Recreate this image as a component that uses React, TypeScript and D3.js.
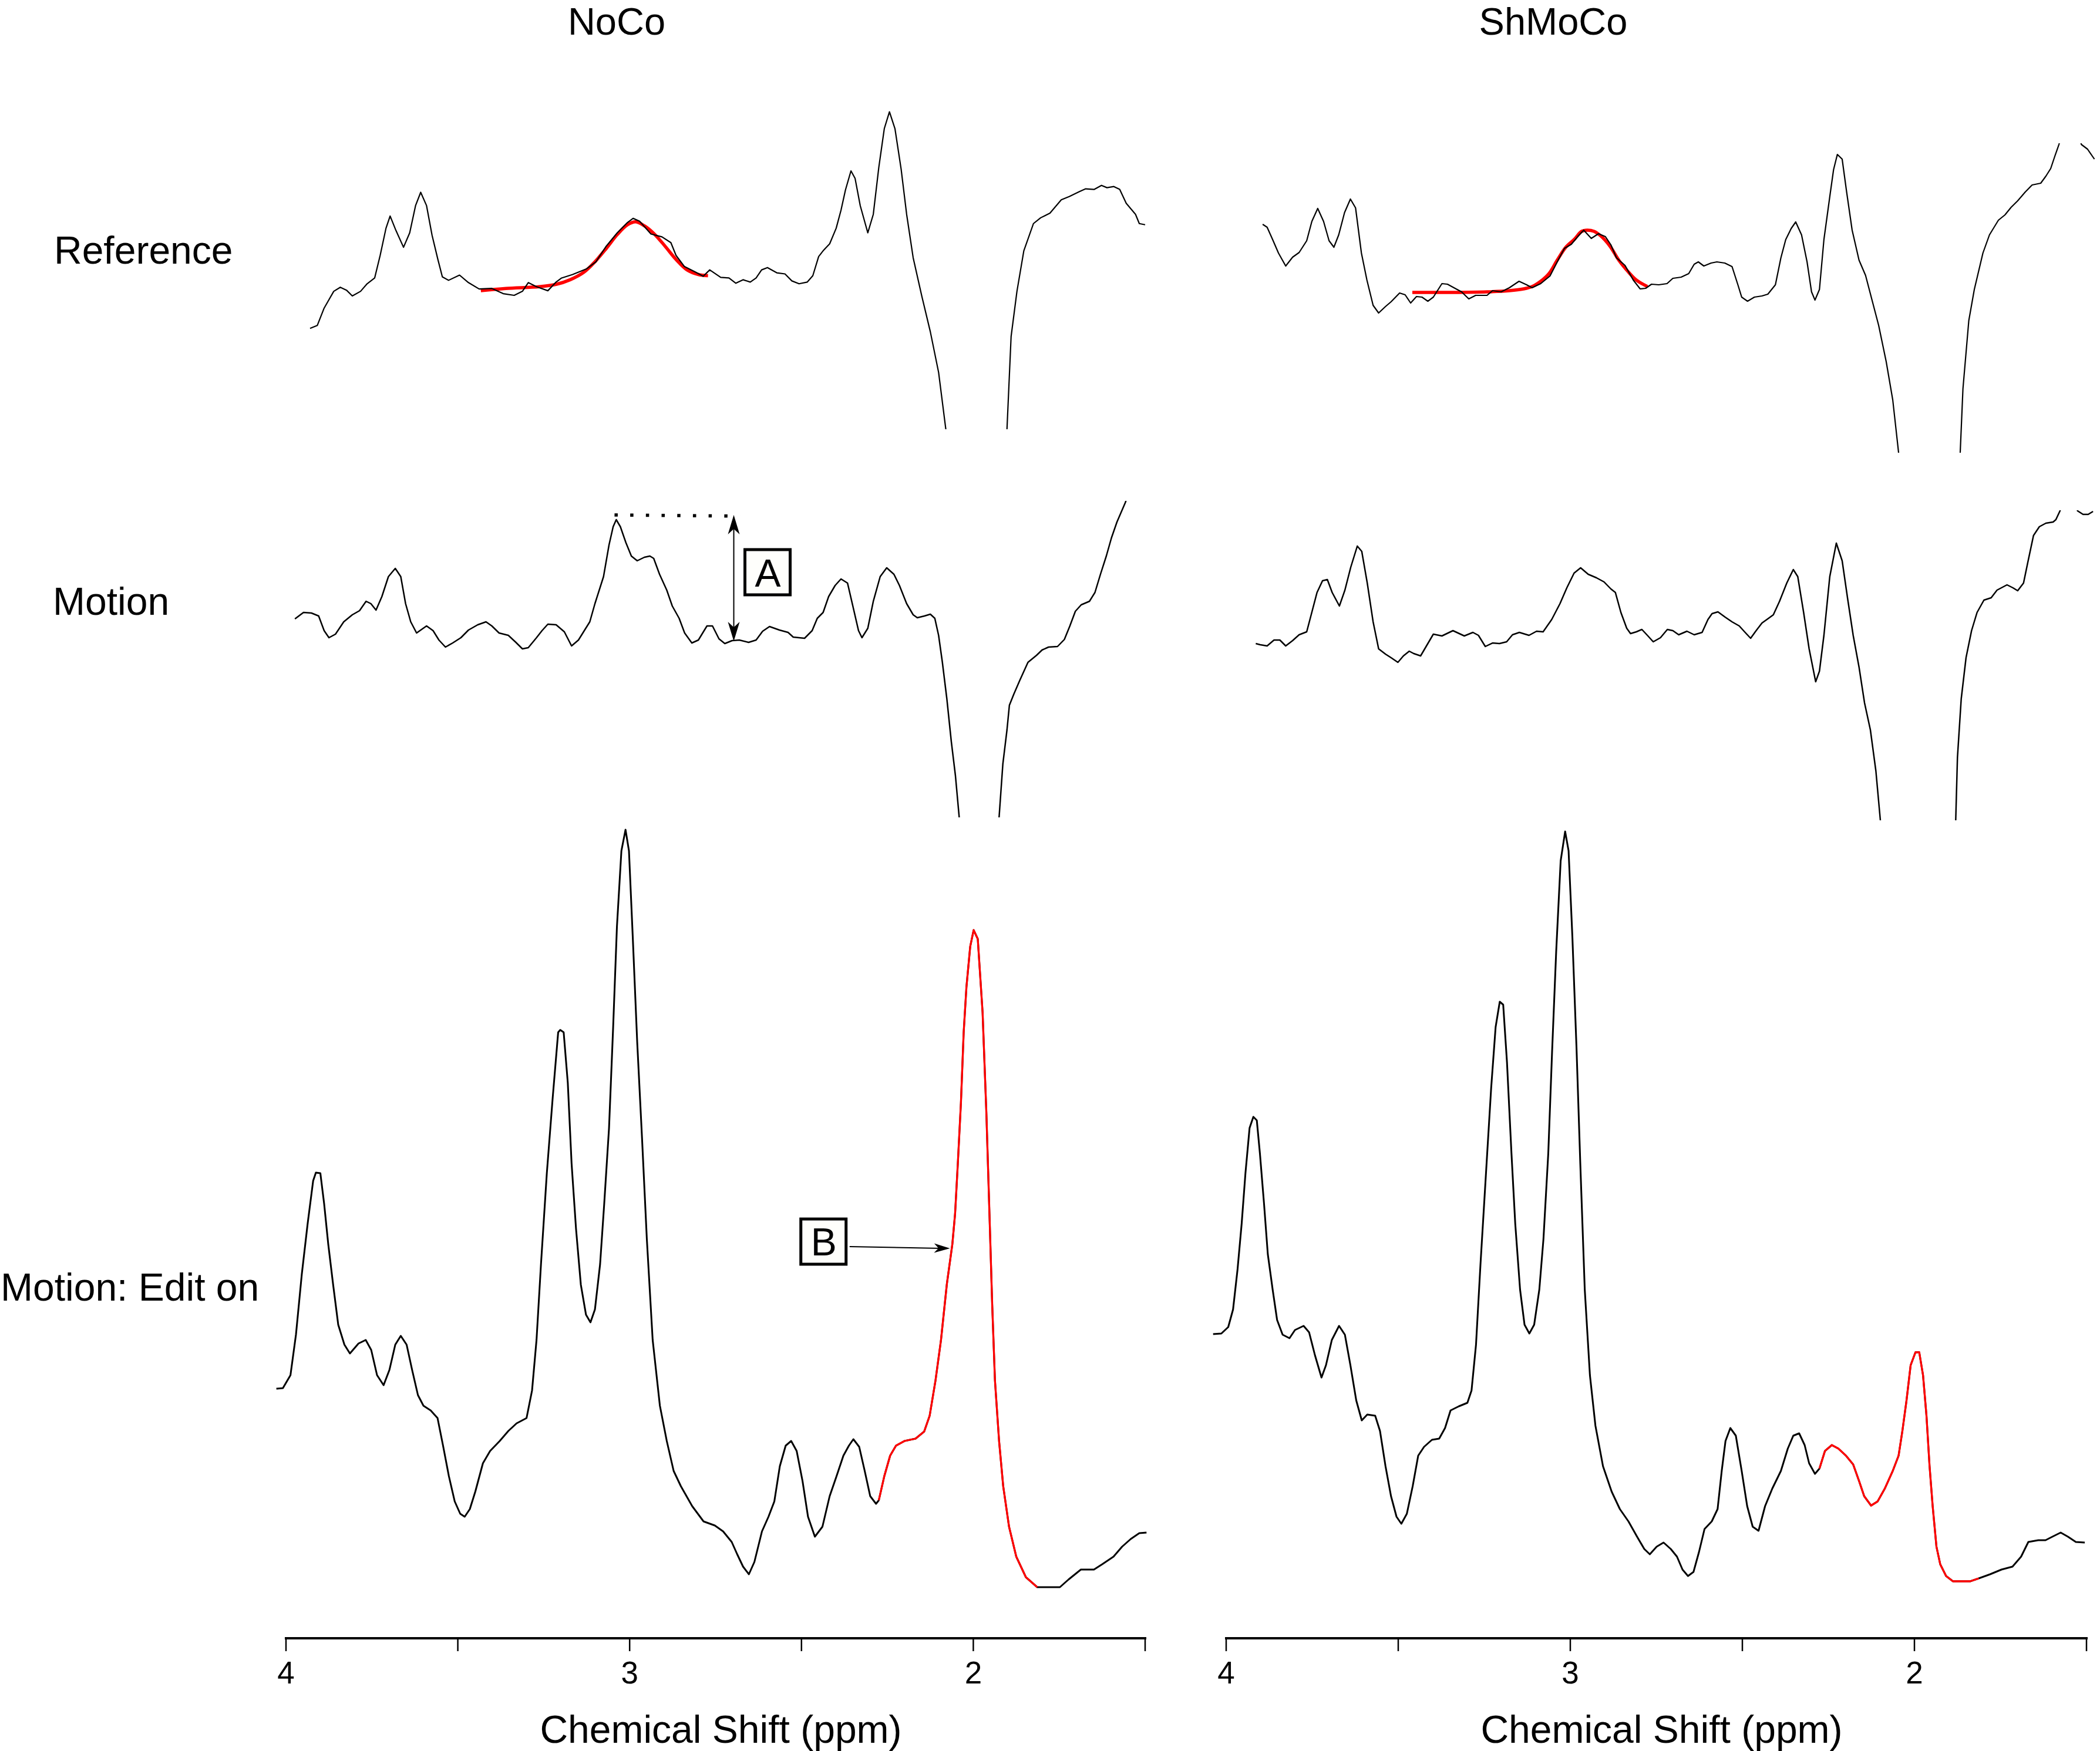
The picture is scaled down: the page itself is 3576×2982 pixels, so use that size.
import React from 'react';
import * as d3 from 'd3';

// axis + labels
const PPM_TICKS = [4, 3.5, 3, 2.5, 2, 1.5];
const PPM_LABELS = ['4', '', '3', '', '2', ''];
const COLUMN_TITLES = ['NoCo', 'ShMoCo'];
const ROW_LABELS = ['Reference', 'Motion', 'Motion: Edit on'];
const X_TITLE = 'Chemical Shift (ppm)';

// edited (red) part of the Edit-on spectra, ppm
const EDIT_RANGE = [2.28, 1.81];

// ---- Reference, NoCo ----
const NOCO_REF_PPM = [3.930, 3.909, 3.889, 3.861, 3.842, 3.824, 3.807, 3.783, 3.764, 3.742, 3.726, 3.709, 3.697, 3.680, 3.658, 3.640, 3.623, 3.608, 3.591, 3.575, 3.558, 3.545, 3.527, 3.495, 3.469, 3.438, 3.401, 3.368, 3.336, 3.312, 3.295, 3.271, 3.238, 3.214, 3.198, 3.166, 3.125, 3.098, 3.068, 3.036, 3.006, 2.990, 2.971, 2.938, 2.906, 2.880, 2.865, 2.841, 2.808, 2.786, 2.767, 2.735, 2.711, 2.691, 2.670, 2.649, 2.632, 2.616, 2.599, 2.572, 2.548, 2.528, 2.507, 2.483, 2.467, 2.450, 2.437, 2.418, 2.399, 2.385, 2.372, 2.356, 2.344, 2.329, 2.307, 2.291, 2.275, 2.259, 2.244, 2.228, 2.210, 2.194, 2.175, 2.150, 2.125, 2.101, 2.080, 2.030, 1.960, 1.930, 1.902, 1.890, 1.873, 1.853, 1.825, 1.804, 1.777, 1.744, 1.720, 1.692, 1.673, 1.648, 1.627, 1.611, 1.591, 1.574, 1.555, 1.528, 1.517, 1.500];
const NOCO_REF_AU = [16.5, 17.0, 20.0, 22.9, 23.6, 23.1, 22.1, 22.9, 24.2, 25.2, 29.1, 33.8, 35.9, 33.4, 30.5, 33.0, 37.7, 40.0, 37.7, 32.6, 28.4, 25.4, 24.8, 25.7, 24.4, 23.3, 23.4, 22.5, 22.2, 22.9, 24.4, 23.7, 23.0, 24.5, 25.2, 25.8, 26.8, 28.0, 30.7, 33.0, 34.8, 35.5, 35.0, 32.8, 32.3, 31.3, 29.1, 27.2, 26.2, 25.5, 26.6, 25.3, 25.2, 24.3, 24.9, 24.5, 25.2, 26.6, 27.0, 26.1, 25.9, 24.7, 24.2, 24.5, 25.6, 28.9, 29.9, 31.1, 33.8, 36.9, 40.4, 43.7, 42.4, 37.7, 33.0, 36.2, 44.3, 51.0, 53.9, 51.0, 44.0, 36.2, 28.7, 22.1, 15.9, 8.9, -0.9, -40, -60, -40, -0.9, 15.1, 22.9, 29.9, 34.6, 35.6, 36.4, 38.7, 39.3, 40.1, 40.6, 40.5, 41.2, 40.8, 41.0, 40.5, 38.1, 36.2, 34.6, 34.4];
const NOCO_FIT_PPM = [3.433, 3.360, 3.263, 3.214, 3.173, 3.133, 3.101, 3.068, 3.036, 3.006, 2.982, 2.957, 2.930, 2.897, 2.865, 2.833, 2.800, 2.772];
const NOCO_FIT_AU = [23.0, 23.4, 23.7, 24.1, 24.9, 26.2, 28.0, 30.3, 32.7, 34.4, 34.9, 34.2, 32.9, 30.7, 28.4, 26.6, 25.8, 25.6];

// ---- Reference, ShMoCo ----
const SHMOCO_REF_PPM = [3.894, 3.881, 3.865, 3.848, 3.827, 3.807, 3.788, 3.766, 3.751, 3.734, 3.717, 3.701, 3.687, 3.673, 3.656, 3.639, 3.624, 3.607, 3.591, 3.573, 3.557, 3.537, 3.521, 3.496, 3.480, 3.464, 3.447, 3.431, 3.414, 3.398, 3.373, 3.357, 3.332, 3.316, 3.295, 3.275, 3.242, 3.226, 3.201, 3.177, 3.149, 3.127, 3.111, 3.086, 3.059, 3.038, 3.017, 2.997, 2.977, 2.961, 2.939, 2.918, 2.898, 2.882, 2.866, 2.841, 2.817, 2.797, 2.781, 2.764, 2.743, 2.719, 2.702, 2.678, 2.656, 2.640, 2.628, 2.612, 2.591, 2.574, 2.551, 2.530, 2.513, 2.502, 2.485, 2.465, 2.443, 2.426, 2.404, 2.388, 2.374, 2.358, 2.345, 2.328, 2.312, 2.299, 2.289, 2.276, 2.263, 2.246, 2.235, 2.224, 2.210, 2.197, 2.181, 2.161, 2.142, 2.121, 2.104, 2.082, 2.063, 2.046, 2.000, 1.950, 1.900, 1.867, 1.859, 1.842, 1.826, 1.801, 1.782, 1.756, 1.737, 1.719, 1.700, 1.678, 1.658, 1.633, 1.618, 1.604, 1.592, 1.580, 1.565, 1.530, 1.515, 1.497, 1.477];
const SHMOCO_REF_AU = [38.9, 38.4, 36.3, 34.0, 31.8, 33.3, 34.1, 36.1, 39.4, 41.6, 39.4, 36.1, 35.0, 37.1, 40.9, 43.2, 41.7, 34.0, 29.4, 25.1, 23.8, 24.9, 25.7, 27.2, 26.9, 25.5, 26.6, 26.5, 25.8, 26.5, 28.8, 28.7, 27.9, 27.4, 26.2, 26.8, 26.8, 27.6, 27.4, 28.1, 29.2, 28.6, 28.1, 28.8, 30.1, 32.5, 34.8, 35.5, 36.9, 37.9, 36.5, 37.3, 36.8, 35.4, 33.2, 31.9, 29.4, 27.9, 28.0, 28.7, 28.6, 28.8, 29.7, 29.9, 30.5, 32.1, 32.5, 31.8, 32.3, 32.5, 32.3, 31.7, 28.6, 26.5, 25.8, 26.5, 26.7, 27.0, 28.6, 33.2, 36.3, 38.2, 39.3, 37.1, 32.5, 27.4, 26.0, 27.8, 36.3, 43.6, 48.2, 50.8, 50.0, 44.4, 37.9, 32.8, 30.2, 25.5, 21.7, 15.5, 9.0, 0, -40, -60, -40, 0, 10.9, 22.5, 27.8, 34.0, 37.1, 39.6, 40.5, 41.8, 42.9, 44.4, 45.6, 45.9, 47.1, 48.4, 50.5, 52.5, 56, 56, 52.5, 51.7, 50.0];
const SHMOCO_FIT_PPM = [3.459, 3.341, 3.242, 3.177, 3.136, 3.111, 3.086, 3.062, 3.038, 3.013, 2.989, 2.967, 2.951, 2.931, 2.911, 2.885, 2.858, 2.833, 2.808, 2.776];
const SHMOCO_FIT_AU = [27.3, 27.3, 27.4, 27.6, 27.9, 28.3, 29.2, 30.5, 32.8, 35.0, 36.3, 37.7, 37.9, 37.7, 36.9, 35.2, 32.7, 30.9, 29.4, 28.3];

// ---- Motion, NoCo ----
const NOCO_MOT_PPM = [3.974, 3.949, 3.926, 3.905, 3.889, 3.875, 3.856, 3.832, 3.807, 3.786, 3.767, 3.753, 3.738, 3.721, 3.702, 3.682, 3.666, 3.652, 3.637, 3.620, 3.591, 3.572, 3.555, 3.536, 3.515, 3.491, 3.469, 3.442, 3.418, 3.401, 3.380, 3.353, 3.331, 3.312, 3.295, 3.271, 3.255, 3.238, 3.214, 3.190, 3.169, 3.149, 3.116, 3.101, 3.076, 3.060, 3.048, 3.039, 3.027, 3.011, 2.995, 2.978, 2.957, 2.941, 2.930, 2.913, 2.892, 2.876, 2.856, 2.840, 2.819, 2.800, 2.775, 2.759, 2.740, 2.723, 2.702, 2.681, 2.654, 2.632, 2.613, 2.593, 2.564, 2.539, 2.524, 2.491, 2.469, 2.454, 2.437, 2.421, 2.402, 2.385, 2.366, 2.349, 2.334, 2.324, 2.307, 2.291, 2.271, 2.252, 2.231, 2.215, 2.194, 2.175, 2.163, 2.142, 2.125, 2.112, 2.101, 2.090, 2.077, 2.064, 2.052, 2.041, 2.000, 1.970, 1.940, 1.925, 1.914, 1.902, 1.895, 1.882, 1.865, 1.841, 1.816, 1.800, 1.781, 1.755, 1.735, 1.719, 1.703, 1.686, 1.662, 1.646, 1.630, 1.613, 1.598, 1.582, 1.557, 1.540];
const NOCO_MOT_AU = [33.8, 34.9, 34.8, 34.3, 31.8, 30.6, 31.2, 33.3, 34.5, 35.2, 36.8, 36.4, 35.3, 37.6, 41.0, 42.4, 41.0, 36.4, 33.3, 31.4, 32.6, 31.8, 30.2, 29.0, 29.7, 30.6, 31.9, 32.8, 33.3, 32.6, 31.4, 31.0, 29.8, 28.7, 28.9, 30.6, 31.8, 32.9, 32.8, 31.6, 29.2, 30.2, 33.3, 36.4, 41.0, 46.4, 49.5, 50.7, 49.5, 46.8, 44.5, 43.7, 44.3, 44.5, 44.1, 41.4, 38.7, 36.0, 33.9, 31.4, 29.7, 30.2, 32.6, 32.6, 30.4, 29.6, 30.1, 30.2, 29.8, 30.2, 31.7, 32.5, 31.9, 31.5, 30.7, 30.5, 31.8, 33.9, 34.9, 37.6, 39.5, 40.6, 39.9, 35.6, 31.8, 30.6, 32.2, 36.8, 41.0, 42.5, 41.4, 39.5, 36.4, 34.5, 34.0, 34.3, 34.6, 33.9, 31.0, 26.4, 20.2, 12.9, 7.1, 0, -40, -50, -40, 0, 9.1, 14.9, 19.1, 21.0, 23.3, 26.4, 27.6, 28.5, 29.0, 29.1, 30.3, 32.6, 35.1, 36.2, 36.8, 38.3, 41.4, 44.5, 47.6, 50.3, 53.7, 57];

// ---- Motion, ShMoCo ----
const SHMOCO_MOT_PPM = [3.914, 3.901, 3.881, 3.861, 3.844, 3.827, 3.807, 3.788, 3.766, 3.753, 3.736, 3.720, 3.706, 3.692, 3.671, 3.655, 3.638, 3.619, 3.606, 3.590, 3.573, 3.557, 3.537, 3.521, 3.501, 3.485, 3.468, 3.455, 3.435, 3.419, 3.398, 3.373, 3.341, 3.308, 3.283, 3.267, 3.247, 3.226, 3.206, 3.185, 3.168, 3.148, 3.120, 3.098, 3.079, 3.054, 3.030, 3.010, 2.989, 2.970, 2.948, 2.924, 2.902, 2.882, 2.869, 2.853, 2.836, 2.825, 2.808, 2.792, 2.776, 2.759, 2.738, 2.718, 2.702, 2.685, 2.661, 2.640, 2.617, 2.600, 2.588, 2.571, 2.550, 2.530, 2.509, 2.492, 2.476, 2.460, 2.443, 2.424, 2.410, 2.392, 2.371, 2.352, 2.339, 2.322, 2.306, 2.287, 2.276, 2.263, 2.246, 2.227, 2.210, 2.194, 2.178, 2.161, 2.145, 2.128, 2.112, 2.099, 2.050, 1.990, 1.920, 1.880, 1.875, 1.864, 1.850, 1.834, 1.818, 1.798, 1.777, 1.760, 1.731, 1.714, 1.700, 1.683, 1.671, 1.654, 1.637, 1.618, 1.597, 1.589, 1.577, 1.560, 1.535, 1.526, 1.510, 1.495, 1.481];
const SHMOCO_MOT_AU = [30.1, 29.9, 29.7, 30.7, 30.7, 29.7, 30.6, 31.6, 32.1, 35.0, 38.8, 40.8, 41.0, 38.8, 36.5, 39.2, 43.1, 46.7, 45.8, 40.4, 33.8, 29.2, 28.3, 27.7, 26.9, 28.0, 28.8, 28.4, 28.0, 29.6, 31.7, 31.4, 32.3, 31.4, 32.0, 31.5, 29.6, 30.2, 30.1, 30.4, 31.6, 32.0, 31.5, 32.2, 32.1, 34.2, 36.9, 39.6, 42.1, 43.0, 41.9, 41.3, 40.6, 39.4, 38.8, 35.4, 32.7, 31.8, 32.1, 32.5, 31.5, 30.4, 31.1, 32.5, 32.3, 31.6, 32.2, 31.6, 32.0, 34.2, 35.2, 35.5, 34.6, 33.8, 33.1, 32.0, 31.0, 32.3, 33.6, 34.4, 35.0, 37.3, 40.4, 42.7, 41.5, 35.4, 29.2, 23.6, 25.4, 31.5, 41.5, 47.2, 44.2, 37.7, 31.5, 26.1, 20.0, 15.4, 8.4, 0, -40, -60, -40, 0, 10.7, 20.7, 27.7, 32.3, 35.4, 37.5, 37.9, 39.2, 40.1, 39.6, 39.1, 40.4, 43.8, 48.5, 50.0, 50.6, 50.8, 51.2, 52.7, 56, 56, 52.7, 52.1, 52.1, 52.6];

// ---- Motion: Edit on, NoCo ----
const NOCO_EDIT_PPM = [4.028, 4.009, 3.987, 3.971, 3.954, 3.937, 3.921, 3.913, 3.900, 3.889, 3.877, 3.863, 3.848, 3.830, 3.814, 3.789, 3.768, 3.752, 3.735, 3.716, 3.699, 3.682, 3.666, 3.649, 3.633, 3.616, 3.600, 3.579, 3.559, 3.543, 3.526, 3.509, 3.493, 3.480, 3.465, 3.449, 3.427, 3.406, 3.378, 3.353, 3.329, 3.300, 3.284, 3.271, 3.258, 3.241, 3.224, 3.208, 3.202, 3.192, 3.180, 3.169, 3.156, 3.142, 3.127, 3.114, 3.101, 3.086, 3.074, 3.060, 3.048, 3.037, 3.024, 3.012, 3.002, 2.991, 2.978, 2.964, 2.950, 2.933, 2.912, 2.892, 2.872, 2.851, 2.818, 2.785, 2.752, 2.728, 2.703, 2.687, 2.670, 2.653, 2.637, 2.615, 2.596, 2.579, 2.563, 2.546, 2.530, 2.514, 2.497, 2.481, 2.461, 2.439, 2.418, 2.398, 2.378, 2.362, 2.349, 2.332, 2.316, 2.300, 2.283, 2.275, 2.259, 2.242, 2.225, 2.200, 2.168, 2.143, 2.127, 2.110, 2.094, 2.077, 2.061, 2.053, 2.045, 2.036, 2.028, 2.020, 2.009, 1.999, 1.987, 1.973, 1.962, 1.953, 1.945, 1.937, 1.925, 1.913, 1.896, 1.875, 1.847, 1.814, 1.748, 1.723, 1.687, 1.649, 1.625, 1.592, 1.567, 1.542, 1.517, 1.496];
const NOCO_EDIT_AU = [35.5, 35.6, 37.8, 44.7, 55.0, 63.6, 70.9, 72.3, 72.2, 67.0, 60.1, 53.3, 46.4, 43.0, 41.5, 43.2, 43.8, 42.1, 37.8, 36.1, 38.7, 43.0, 44.5, 43.0, 38.7, 34.4, 32.6, 31.8, 30.5, 25.8, 20.6, 16.3, 14.2, 13.7, 15.0, 18.0, 22.8, 24.9, 26.6, 28.3, 29.6, 30.5, 35.2, 43.8, 56.7, 72.2, 85.0, 96.2, 96.6, 96.2, 87.6, 73.9, 62.7, 53.2, 48.1, 46.8, 49.0, 56.7, 67.0, 79.9, 97.1, 114.2, 127.1, 130.7, 127.1, 112.5, 94.5, 78.2, 61.0, 43.8, 32.6, 26.6, 21.5, 18.9, 15.5, 12.9, 12.2, 11.2, 9.4, 7.3, 5.2, 3.9, 6.0, 11.2, 13.7, 16.3, 22.3, 25.8, 26.6, 24.9, 19.8, 13.7, 10.3, 12.0, 17.2, 20.6, 24.1, 25.8, 26.9, 25.6, 21.5, 17.2, 15.9, 16.5, 20.6, 24.1, 25.8, 26.6, 27.0, 28.2, 30.9, 36.9, 43.8, 53.3, 60.1, 65.3, 73.9, 84.2, 96.2, 103.9, 110.8, 113.6, 112.1, 99.6, 82.5, 65.3, 49.8, 36.9, 26.6, 18.9, 12.0, 6.9, 3.4, 1.7, 1.7, 3.0, 4.7, 4.7, 5.6, 6.9, 8.6, 9.9, 10.9, 11.0];

// ---- Motion: Edit on, ShMoCo ----
const SHMOCO_EDIT_PPM = [4.038, 4.014, 3.994, 3.980, 3.967, 3.955, 3.944, 3.932, 3.921, 3.911, 3.902, 3.890, 3.879, 3.865, 3.852, 3.836, 3.816, 3.800, 3.775, 3.759, 3.742, 3.723, 3.710, 3.693, 3.672, 3.655, 3.639, 3.622, 3.606, 3.590, 3.567, 3.553, 3.537, 3.521, 3.505, 3.491, 3.475, 3.458, 3.442, 3.425, 3.402, 3.381, 3.364, 3.348, 3.324, 3.299, 3.287, 3.274, 3.261, 3.245, 3.230, 3.217, 3.205, 3.195, 3.184, 3.171, 3.160, 3.146, 3.133, 3.119, 3.105, 3.090, 3.078, 3.064, 3.053, 3.041, 3.028, 3.015, 3.005, 2.994, 2.982, 2.971, 2.958, 2.943, 2.927, 2.905, 2.880, 2.856, 2.831, 2.806, 2.785, 2.769, 2.749, 2.729, 2.708, 2.690, 2.674, 2.658, 2.642, 2.626, 2.610, 2.589, 2.572, 2.560, 2.549, 2.535, 2.519, 2.502, 2.486, 2.470, 2.453, 2.434, 2.413, 2.388, 2.368, 2.352, 2.335, 2.319, 2.306, 2.289, 2.276, 2.260, 2.240, 2.221, 2.199, 2.178, 2.161, 2.146, 2.126, 2.107, 2.086, 2.063, 2.046, 2.035, 2.023, 2.011, 1.997, 1.986, 1.975, 1.965, 1.956, 1.947, 1.936, 1.925, 1.908, 1.888, 1.838, 1.813, 1.780, 1.747, 1.715, 1.690, 1.669, 1.640, 1.619, 1.599, 1.575, 1.554, 1.531, 1.505];
const SHMOCO_EDIT_AU = [44.8, 44.9, 46.0, 49.0, 55.8, 63.6, 72.2, 79.9, 81.8, 81.2, 75.6, 67.0, 58.4, 52.4, 47.2, 44.7, 44.1, 45.5, 46.2, 45.1, 41.2, 37.4, 39.5, 43.8, 46.2, 44.7, 39.5, 33.5, 30.1, 31.1, 30.9, 28.3, 22.3, 17.2, 13.7, 12.5, 14.2, 18.9, 24.1, 25.6, 26.8, 27.0, 28.8, 31.8, 32.5, 33.1, 35.2, 43.0, 56.7, 72.2, 86.7, 97.1, 101.4, 100.9, 91.1, 75.6, 63.6, 52.4, 46.4, 44.9, 46.4, 52.4, 61.0, 75.6, 92.8, 110.0, 125.4, 130.4, 127.1, 112.5, 93.6, 73.9, 52.4, 37.8, 29.2, 22.3, 18.0, 15.0, 12.9, 10.3, 8.2, 7.3, 8.6, 9.3, 8.2, 6.9, 4.7, 3.6, 4.3, 7.7, 11.6, 12.9, 15.0, 21.5, 26.6, 28.8, 27.5, 21.5, 15.5, 12.0, 11.3, 15.5, 18.5, 21.5, 25.3, 27.5, 27.9, 25.9, 22.8, 21.0, 21.9, 24.9, 25.9, 25.3, 24.1, 22.6, 19.8, 17.2, 15.6, 16.3, 18.5, 21.5, 24.1, 28.3, 33.5, 39.5, 41.7, 41.7, 37.8, 30.9, 22.3, 15.5, 8.6, 5.6, 3.6, 2.7, 2.7, 3.2, 3.9, 4.7, 5.2, 6.9, 9.4, 9.7, 9.7, 10.3, 11.0, 10.3, 9.4, 9.3];

// annotation A (Motion NoCo): peak-to-baseline height
const A_PEAK_PPM = 3.044;
const A_ARROW_PPM = 2.697;
const A_END_PPM = 2.679;
const A_TOP = 51.5;
const A_BOTTOM = 30.0;
// annotation B (Edit on NoCo)
const B_FROM_PPM = 2.36;
const B_TO_PPM = 2.068;
const B_LEVEL = 59.4;

const FONT = "'Liberation Sans', Arial, Helvetica, sans-serif";
const W = 3576;
const H = 2982;
const AXIS_Y = 2790;

const zip = (p: number[], a: number[]) => p.map((v, i) => [v, a[i]] as [number, number]);

// stealth arrow head, tip at (x,y), pointing along (dx,dy)
function head(x: number, y: number, dx: number, dy: number, len: number, hw: number) {
  const bx = x - dx * len, by = y - dy * len;
  const nx = -dy, ny = dx;
  const mx = x - dx * len * 0.72, my = y - dy * len * 0.72;
  return `M${x},${y}L${bx + nx * hw},${by + ny * hw}L${mx},${my}L${bx - nx * hw},${by - ny * hw}Z`;
}

export default function App() {
  const xCols = [
    d3.scaleLinear().domain([4, 1.5]).range([487, 1950]),
    d3.scaleLinear().domain([4, 1.5]).range([2088, 3553]),
  ];

  const panels = [
    { id: 'tl', col: 0, yr: [721.9, 623.3], clip: [100, 731], data: zip(NOCO_REF_PPM, NOCO_REF_AU), fit: zip(NOCO_FIT_PPM, NOCO_FIT_AU), sw: 2.2 },
    { id: 'tr', col: 1, yr: [771, 671], clip: [244, 771], data: zip(SHMOCO_REF_PPM, SHMOCO_REF_AU), fit: zip(SHMOCO_FIT_PPM, SHMOCO_FIT_AU), sw: 2.2 },
    { id: 'ml', col: 0, yr: [1392, 1292], clip: [853, 1392], data: zip(NOCO_MOT_PPM, NOCO_MOT_AU), fit: null, sw: 2.5 },
    { id: 'mr', col: 1, yr: [1397, 1297], clip: [869, 1397], data: zip(SHMOCO_MOT_PPM, SHMOCO_MOT_AU), fit: null, sw: 2.5 },
    { id: 'bl', col: 0, yr: [2720, 2620], clip: [1380, 2760], data: zip(NOCO_EDIT_PPM, NOCO_EDIT_AU), fit: null, sw: 3, edit: true },
    { id: 'br', col: 1, yr: [2720, 2620], clip: [1380, 2760], data: zip(SHMOCO_EDIT_PPM, SHMOCO_EDIT_AU), fit: null, sw: 3, edit: true },
  ];

  const yFor = (p: any) => d3.scaleLinear().domain([0, 10]).range(p.yr);

  // scales used by the annotations
  const xL = xCols[0];
  const yMl = yFor(panels[2]);
  const yBl = yFor(panels[4]);
  const ax = xL(A_ARROW_PPM);
  const aTop = yMl(A_TOP);
  const aBot = yMl(A_BOTTOM);
  const bx0 = xL(B_FROM_PPM);
  const bx1 = xL(B_TO_PPM);
  const by = yBl(B_LEVEL);

  return (
    <svg width={W} height={H} style={{ position: 'absolute', left: 0, top: 0, background: '#fff', display: 'block' }} fontFamily={FONT}>
      <defs>
        {panels.map((p) => (
          <clipPath id={`clip-${p.id}`} key={p.id}>
            <rect x={p.col === 0 ? 0 : 1965} y={p.clip[0]} width={p.col === 0 ? 1965 : W - 1965} height={p.clip[1] - p.clip[0]} />
          </clipPath>
        ))}
      </defs>
      <rect width={W} height={H} fill="#fff" />

      {COLUMN_TITLES.map((t, i) => (
        <text key={t} x={i === 0 ? 1050 : 2645} y={59} fontSize={65} textAnchor="middle">{t}</text>
      ))}
      <text x={92} y={449} fontSize={66}>{ROW_LABELS[0]}</text>
      <text x={90} y={1047} fontSize={66}>{ROW_LABELS[1]}</text>
      <text x={1} y={2215} fontSize={66}>{ROW_LABELS[2]}</text>

      {panels.map((p) => {
        const x = xCols[p.col];
        const y = yFor(p);
        const line = d3.line<[number, number]>().x((d) => x(d[0])).y((d) => y(d[1]));
        const fitLine = d3.line<[number, number]>().x((d) => x(d[0])).y((d) => y(d[1])).curve(d3.curveCatmullRom.alpha(0.5));
        const edited = p.edit ? p.data.filter((d) => d[0] <= EDIT_RANGE[0] && d[0] >= EDIT_RANGE[1]) : null;
        return (
          <g key={p.id} clipPath={`url(#clip-${p.id})`}>
            {p.fit && <path d={fitLine(p.fit) || ''} fill="none" stroke="#ff0000" strokeWidth={5.5} strokeLinejoin="round" />}
            <path d={line(p.data) || ''} fill="none" stroke="#000" strokeWidth={p.sw} strokeLinejoin="round" />
            {edited && <path d={line(edited) || ''} fill="none" stroke="#ff0000" strokeWidth={p.sw + 0.3} strokeLinejoin="round" />}
          </g>
        );
      })}

      {/* annotation A */}
      <line x1={xL(A_PEAK_PPM)} x2={xL(A_END_PPM)} y1={aTop} y2={aTop + 2} stroke="#000" strokeWidth={5.5} strokeDasharray="5.5 21.2" />
      <line x1={ax} x2={ax} y1={aTop + 20} y2={aBot - 20} stroke="#000" strokeWidth={2} />
      <path d={head(ax, aTop, 0, -1, 33, 10)} fill="#000" />
      <path d={head(ax, aBot, 0, 1, 33, 10)} fill="#000" />
      <rect x={ax + 19} y={936} width={77} height={77} fill="#fefefb" stroke="#000" strokeWidth={5} />
      <text x={ax + 58} y={999} fontSize={66} textAnchor="middle">A</text>

      {/* annotation B */}
      <line x1={bx0} x2={bx1 - 15} y1={by - 3} y2={by} stroke="#000" strokeWidth={2} />
      <path d={head(bx1, by, 1, 0.017, 27, 8)} fill="#000" />
      <rect x={bx0 - 83} y={2076} width={77} height={77} fill="#fefefb" stroke="#000" strokeWidth={5} />
      <text x={bx0 - 44} y={2138} fontSize={66} textAnchor="middle">B</text>

      {/* x axes */}
      {xCols.map((x, ci) => {
        const [r0, r1] = x.range();
        return (
          <g key={ci}>
            <line x1={r0 - 2} x2={r1 + 2} y1={AXIS_Y} y2={AXIS_Y} stroke="#000" strokeWidth={4} />
            {PPM_TICKS.map((t, i) => (
              <g key={t}>
                <line x1={x(t)} x2={x(t)} y1={AXIS_Y} y2={AXIS_Y + 22} stroke="#000" strokeWidth={2.5} />
                {PPM_LABELS[i] && (
                  <text x={x(t)} y={2867} fontSize={53} textAnchor="middle">{PPM_LABELS[i]}</text>
                )}
              </g>
            ))}
            <text x={(r0 + r1) / 2 + 9} y={2968} fontSize={66} textAnchor="middle">{X_TITLE}</text>
          </g>
        );
      })}
    </svg>
  );
}
